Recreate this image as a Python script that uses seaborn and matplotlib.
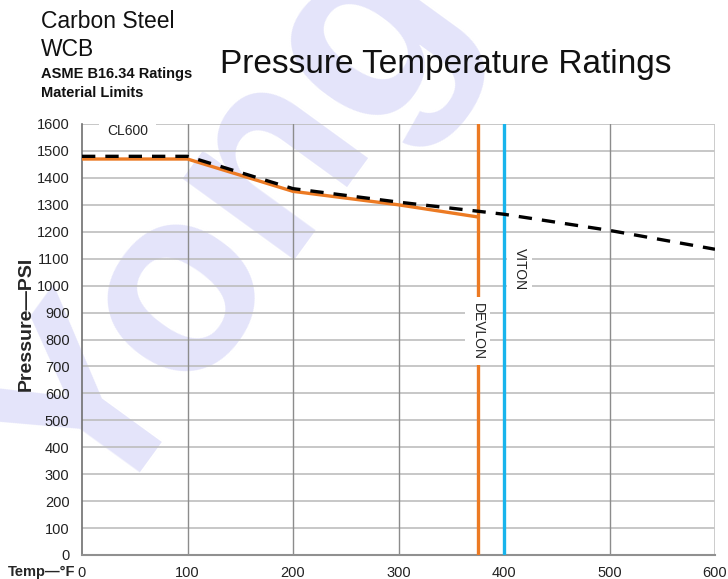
import matplotlib.pyplot as plt
import pandas as pd
import seaborn as sns

# ASME B16.34 class 600 WCB rating (dashed) and material limit (orange)
temp_cl600 = [0, 100, 200, 300, 400, 500, 600]
psi_cl600 = [1480, 1480, 1360, 1310, 1265, 1205, 1135]
temp_limit = [0, 100, 200, 300, 375]
psi_limit = [1470, 1470, 1350, 1300, 1255]

# seat material temperature limits
seat_names = ['DEVLON', 'VITON']
seat_temps = [375, 400]
seat_colors = ['#ec7a23', '#18b4ec']

x_ticks = [0, 100, 200, 300, 400, 500, 600]
y_ticks = list(range(0, 1700, 100))

sns.set_theme(style='white')
plt.rcParams['font.family'] = ['Liberation Sans', 'DejaVu Sans']

df_cl = pd.DataFrame({'temp': temp_cl600, 'psi': psi_cl600})
df_lim = pd.DataFrame({'temp': temp_limit, 'psi': psi_limit})

fig = plt.figure(figsize=(7.28, 5.79), dpi=100)
ax = fig.add_axes([82 / 728, 1 - 555 / 579, 633 / 728, 431 / 579])
ax.set_facecolor('none')

# watermark behind the plot
fig.text(0.318, 0.605, 'Yong', rotation=54, fontsize=188, fontweight='bold',
         color='#e4e4fa', ha='center', va='center', zorder=-5)

# grid
for y in y_ticks[1:]:
    ax.axhline(y, color='#bdbdbd', lw=1.2, zorder=1)
for x in x_ticks[1:-1]:
    ax.axvline(x, color='#8c8c8c', lw=1.0, zorder=1)
ax.axvline(600, color='#c8c8c8', lw=2.0, zorder=1)

sns.lineplot(data=df_lim, x='temp', y='psi', ax=ax, color='#ec7a23', lw=2.4, zorder=3)
sns.lineplot(data=df_cl, x='temp', y='psi', ax=ax, color='black', lw=2.4,
             linestyle=(0, (4, 3)), zorder=4)

for name, t, c in zip(seat_names, seat_temps, seat_colors):
    ax.axvline(t, color=c, lw=2.4, zorder=3)

# labels with white boxes cutting the lines
ax.text(seat_temps[0], 830, seat_names[0], rotation=-90, ha='center', va='center',
        fontsize=10, color='#222222', zorder=5,
        bbox=dict(facecolor='white', edgecolor='none', pad=4))
ax.text(seat_temps[1] + 15, 1060, seat_names[1], rotation=-90, ha='center', va='center',
        fontsize=10, color='#222222', zorder=5,
        bbox=dict(facecolor='white', edgecolor='none', pad=4))
ax.text(43, 1575, 'CL600', ha='center', va='center', fontsize=10, color='#222222',
        zorder=5, bbox=dict(facecolor='white', edgecolor='none', pad=6))

ax.set_xlim(0, 600)
ax.set_ylim(0, 1600)
ax.set_xticks(x_ticks)
ax.set_yticks(y_ticks)
ax.set_xlabel('')
ax.set_ylabel('')
ax.tick_params(axis='both', labelsize=10.5, colors='#222222', length=0)
ax.tick_params(axis='y', pad=9)
ax.tick_params(axis='x', pad=8)
for s in ['top', 'right']:
    ax.spines[s].set_visible(False)
ax.spines['left'].set_color('#707070')
ax.spines['bottom'].set_color('#909090')
ax.spines['left'].set_linewidth(1.2)
ax.spines['bottom'].set_linewidth(1.5)

fig.text(8 / 728, 1 - 572 / 579, 'Temp—°F', fontsize=10.5, fontweight='bold',
         ha='left', va='center')
fig.text(26 / 728, 1 - 324 / 579, 'Pressure—PSI', fontsize=14, fontweight='bold',
         rotation=90, ha='center', va='center')

fig.text(41 / 728, 1 - 22 / 579, 'Carbon Steel', fontsize=16.5, ha='left', va='center',
         color='#111111')
fig.text(41 / 728, 1 - 49 / 579, 'WCB', fontsize=16.5, ha='left', va='center',
         color='#111111')
fig.text(41 / 728, 1 - 74 / 579, 'ASME B16.34 Ratings', fontsize=10.5, fontweight='bold',
         ha='left', va='center', color='#111111')
fig.text(41 / 728, 1 - 93 / 579, 'Material Limits', fontsize=10.5, fontweight='bold',
         ha='left', va='center', color='#111111')
fig.text(446 / 728, 1 - 64 / 579, 'Pressure Temperature Ratings', fontsize=24,
         ha='center', va='center', color='#111111')

fig.savefig('out.png', dpi=100)
